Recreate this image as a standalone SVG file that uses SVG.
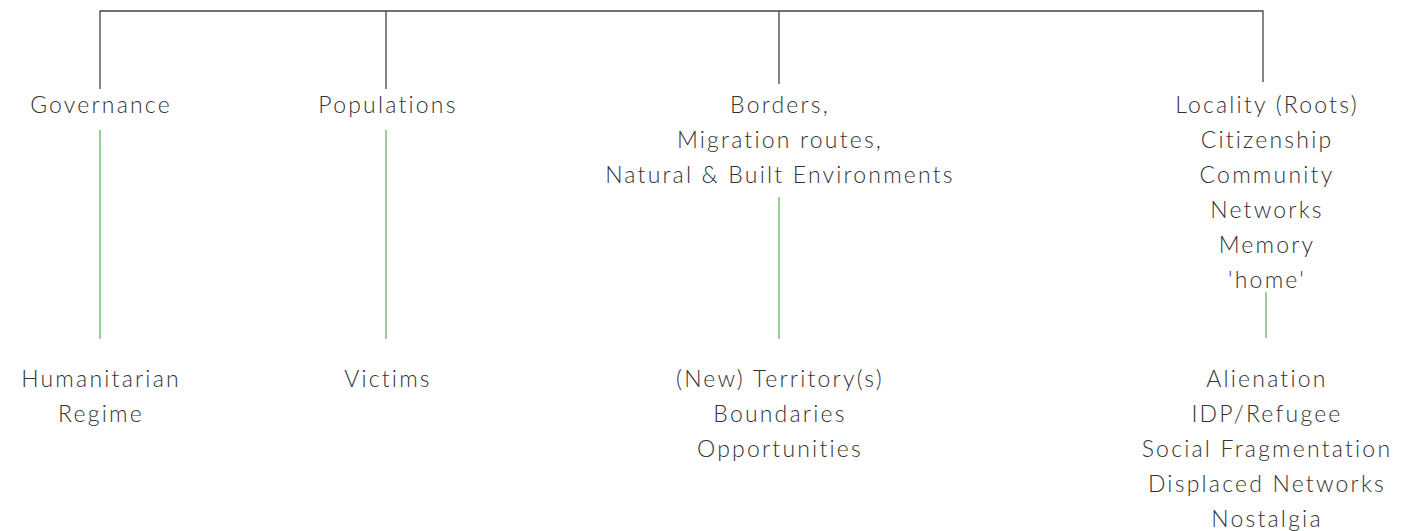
<svg xmlns="http://www.w3.org/2000/svg" width="1419" height="531" viewBox="0 0 1419 531">
<style>
text{font-family:Lato,"Liberation Sans",sans-serif;font-weight:300;font-size:23px;fill:#333;text-anchor:middle;letter-spacing:2.2px}
.tree{stroke:#444;stroke-width:1.3;fill:none}
.green{stroke:#5cb85c;stroke-width:1.3;fill:none}
</style>
<rect width="1419" height="531" fill="#fff"/>
<g id="connectors">
<path class="tree" d="M100,89 V11 H1263 V82 M386,11 V89 M779,11 V84"/>
<line class="green" x1="100" y1="130" x2="100" y2="339"/>
<line class="green" x1="386" y1="130" x2="386" y2="339"/>
<line class="green" x1="779" y1="197" x2="779" y2="339"/>
<line class="green" x1="1266" y1="292" x2="1266" y2="338"/>
</g>
<g id="governance"><text x="101" y="113">Governance</text></g>
<g id="populations"><text x="388" y="113">Populations</text></g>
<g id="borders"><text x="780" y="113">Borders,</text><text x="780" y="148">Migration routes,</text><text x="780" y="183">Natural &amp; Built Environments</text></g>
<g id="locality"><text x="1267" y="113">Locality (Roots)</text><text x="1267" y="148">Citizenship</text><text x="1267" y="183">Community</text><text x="1267" y="218">Networks</text><text x="1267" y="253">Memory</text><text x="1267" y="288">'home'</text></g>
<g id="humanitarian"><text x="101" y="387">Humanitarian</text><text x="101" y="422">Regime</text></g>
<g id="victims"><text x="388" y="387">Victims</text></g>
<g id="territory"><text x="780" y="387">(New) Territory(s)</text><text x="780" y="422">Boundaries</text><text x="780" y="457">Opportunities</text></g>
<g id="alienation"><text x="1267" y="387">Alienation</text><text x="1267" y="422">IDP/Refugee</text><text x="1267" y="457">Social Fragmentation</text><text x="1267" y="492">Displaced Networks</text><text x="1267" y="527">Nostalgia</text></g>
</svg>
